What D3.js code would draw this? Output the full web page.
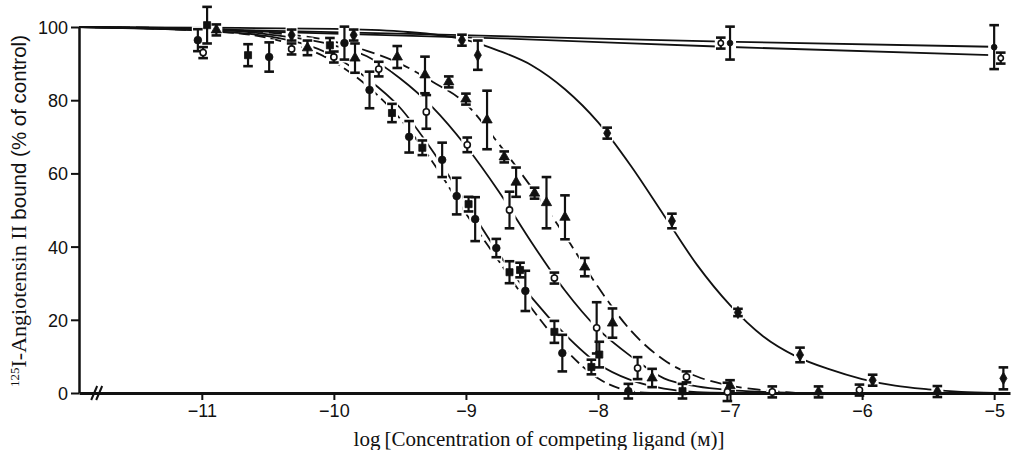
<!DOCTYPE html>
<html>
<head>
<meta charset="utf-8">
<script src="https://cdn.jsdelivr.net/npm/d3@7"></script>
<style>
  body { margin: 0; background: #fff; }
  svg { display: block; }
  .tick text { font-family: "Liberation Sans", Arial, sans-serif; font-size: 18px; fill: #111; }
</style>
</head>
<body>
<div id="chart"></div>
<script>
// axis ticks
const xTicks = [-11, -10, -9, -8, -7, -6, -5];
const yTicks = [0, 20, 40, 60, 80, 100];

// fitted curves: [log conc, % bound]
const curveF1 = [[-11.93, 100], [-11, 99.4], [-8.74, 97.5], [-7.05, 96.0], [-5.02, 94.6]];
const curveF2 = [[-11.93, 100], [-11, 99.2], [-8.74, 96.9], [-7.05, 94.6], [-5.02, 92.3]];
const curveB1 = [[-11.93, 100], [-11, 99], [-10.5, 97], [-10, 90.5], [-9.75, 84], [-9.5, 75], [-9.25, 63],
  [-9, 49], [-8.75, 36], [-8.5, 23], [-8.25, 12], [-8, 4], [-7.75, 0.5], [-7.6, 0]];
const curveB2 = [[-11.93, 100], [-11, 99], [-10.5, 97.5], [-10, 92], [-9.75, 86], [-9.5, 78], [-9.25, 66],
  [-9, 52], [-8.75, 38], [-8.5, 26], [-8.25, 16], [-8, 8], [-7.75, 3.5], [-7.5, 1.2], [-7.25, 0.2], [-7, 0]];
const curveC = [[-11.93, 100], [-11, 99.5], [-10.5, 98], [-10, 95], [-9.75, 92], [-9.5, 86], [-9.25, 78],
  [-9, 67.5], [-8.75, 55], [-8.5, 41], [-8.25, 28], [-8, 17.5], [-7.75, 10], [-7.5, 4], [-7.25, 1.8],
  [-7, 0.8], [-6.75, 0.3], [-6.5, 0]];
const curveD = [[-11.93, 100], [-11, 99.5], [-10.5, 98.5], [-10, 96], [-9.75, 93.5], [-9.5, 90], [-9.25, 85],
  [-9, 79], [-8.75, 68], [-8.5, 56], [-8.25, 43], [-8, 29], [-7.75, 17], [-7.5, 9], [-7.25, 4.5],
  [-7, 2], [-6.75, 0.8], [-6.5, 0]];
const curveE = [[-11.93, 100], [-11, 99.8], [-10, 99.5], [-9.5, 98.8], [-9, 96.5], [-8.75, 93.5], [-8.5, 89.5],
  [-8.25, 83], [-8, 74], [-7.75, 62], [-7.5, 48.5], [-7.25, 35], [-7, 24], [-6.75, 15.5], [-6.5, 10],
  [-6.25, 6.5], [-6, 3.8], [-5.75, 2], [-5.5, 1], [-5.25, 0.3], [-5, 0]];

// data points: [log conc, % bound, s.e.m.]
const ptsB1 = [[-11.03, 96.4, 3], [-10.49, 91.8, 4], [-9.92, 95.6, 4.5], [-9.73, 82.8, 5], [-9.43, 70.0, 4.3],
  [-9.18, 63.7, 4.7], [-9.07, 53.8, 5], [-8.93, 47.5, 6], [-8.77, 39.6, 2.5], [-8.55, 27.9, 5.5],
  [-8.27, 10.9, 5], [-7.77, 0.5, 2]];
const ptsB2 = [[-10.96, 100.5, 5], [-10.65, 92.3, 3], [-10.03, 95.0, 2], [-9.56, 76.5, 2.5], [-9.33, 67.0, 2],
  [-8.98, 51.6, 2], [-8.67, 33.0, 3], [-8.59, 33.6, 2], [-8.33, 16.7, 3], [-8.05, 7.1, 2],
  [-7.99, 10.5, 3.5], [-7.36, 0.5, 2]];
const ptsC = [[-10.99, 93.0, 1.5], [-10.32, 94.0, 1.5], [-10.0, 91.8, 1.5], [-9.66, 88.5, 2], [-9.30, 76.8, 4.6],
  [-8.99, 67.8, 2], [-8.67, 50.0, 5], [-8.33, 31.4, 1.5], [-8.01, 17.8, 7], [-7.70, 6.8, 3],
  [-7.33, 4.4, 1.5], [-7.02, 0.3, 2.5], [-6.68, 0.3, 1.5], [-6.02, 0.8, 1.5]];
const ptsD = [[-10.89, 99.2, 1.5], [-10.20, 94.3, 2], [-9.84, 91.5, 4], [-9.52, 91.8, 3], [-9.31, 86.9, 5],
  [-9.13, 85.0, 1.5], [-9.00, 80.3, 1.5], [-8.84, 74.6, 8], [-8.71, 64.5, 1.5], [-8.62, 57.6, 4],
  [-8.48, 54.6, 1.5], [-8.39, 52.0, 7], [-8.25, 48.0, 6], [-8.10, 34.4, 2.5], [-7.89, 19.1, 4],
  [-7.59, 4.1, 2.5], [-7.00, 2.0, 1.5], [-6.33, 0.3, 1.5]];
const ptsE = [[-10.32, 97.8, 1.5], [-9.85, 97.8, 1.5], [-9.03, 96.4, 1.5], [-8.91, 92.3, 4], [-7.93, 71.0, 1.5],
  [-7.44, 47.0, 2], [-6.94, 22.0, 1], [-6.47, 10.4, 2], [-5.92, 3.5, 1.5], [-5.43, 0.4, 1.5], [-4.93, 4.0, 3]];
const ptsF1 = [[-7.00, 95.6, 4.5], [-5.00, 94.5, 6]];
const ptsF2 = [[-7.07, 95.6, 1.5], [-4.95, 91.5, 1.5]];

const w = 1011, h = 450;

const x = d3.scaleLinear().domain([-11.93, -4.88]).range([79, 1010]);
const y = d3.scaleLinear().domain([0, 100]).range([393, 27]);

const svg = d3.select("#chart").append("svg")
  .attr("width", w)
  .attr("height", h);

const line = d3.line()
  .x(d => x(d[0]))
  .y(d => y(d[1]))
  .curve(d3.curveMonotoneX);

const curves = [
  { data: curveF1, dash: null },
  { data: curveF2, dash: null },
  { data: curveE, dash: null },
  { data: curveD, dash: "13,6" },
  { data: curveC, dash: null },
  { data: curveB2, dash: null },
  { data: curveB1, dash: "11,5" }
];

svg.append("g").selectAll("path")
  .data(curves)
  .enter()
  .append("path")
  .attr("d", d => line(d.data))
  .attr("fill", "none")
  .attr("stroke", "#111")
  .attr("stroke-width", 1.8)
  .attr("stroke-dasharray", d => d.dash);

const series = [
  { pts: ptsB1, type: d3.symbolCircle, size: 46, open: false },
  { pts: ptsB2, type: d3.symbolSquare, size: 50, open: false },
  { pts: ptsC, type: d3.symbolCircle, size: 30, open: true },
  { pts: ptsD, type: d3.symbolTriangle, size: 46, open: false },
  { pts: ptsE, type: d3.symbolDiamond, size: 44, open: false },
  { pts: ptsF1, type: d3.symbolCircle, size: 26, open: false },
  { pts: ptsF2, type: d3.symbolCircle, size: 22, open: true }
];

const allPts = [];
series.forEach(s => s.pts.forEach(p => allPts.push({ p: p, s: s })));

const cap = 4.8;

// white halo so the curves break around each point
const halo = svg.append("g");
halo.selectAll("line")
  .data(allPts)
  .enter()
  .append("line")
  .attr("x1", d => x(d.p[0]))
  .attr("x2", d => x(d.p[0]))
  .attr("y1", d => y(d.p[1] + d.p[2]) - 3)
  .attr("y2", d => y(d.p[1] - d.p[2]) + 3)
  .attr("stroke", "#fff")
  .attr("stroke-width", 12);

// axes
const xAxis = d3.axisBottom(x).tickValues(xTicks).tickFormat(d3.format("d"))
  .tickSize(7).tickSizeOuter(0).tickPadding(4);
const yAxis = d3.axisLeft(y).tickValues(yTicks).tickSize(8).tickSizeOuter(0).tickPadding(3);

const gx = svg.append("g")
  .attr("transform", `translate(0, ${y(0)})`)
  .call(xAxis);
gx.select(".domain").attr("stroke", "#111").attr("stroke-width", 3);
gx.selectAll(".tick line").attr("stroke", "#111").attr("stroke-width", 2);

const gy = svg.append("g")
  .attr("transform", `translate(${x(-11.93)}, 0)`)
  .call(yAxis);
gy.select(".domain").attr("stroke", "#111").attr("stroke-width", 2.5);
gy.selectAll(".tick line").attr("stroke", "#111").attr("stroke-width", 2);
gy.selectAll(".tick text").attr("dy", "0.36em");

// axis break marks
const bx = x(-11.815);
[0, 5].forEach(off => {
  svg.append("line")
    .attr("x1", bx + off - 3).attr("y1", y(0) + 7)
    .attr("x2", bx + off + 3).attr("y2", y(0) - 7)
    .attr("stroke", "#111").attr("stroke-width", 2);
});

// error bars
const bars = svg.append("g").attr("stroke", "#111").attr("stroke-width", 2.2);
bars.selectAll("line.v")
  .data(allPts)
  .enter()
  .append("line")
  .attr("class", "v")
  .attr("x1", d => x(d.p[0]))
  .attr("x2", d => x(d.p[0]))
  .attr("y1", d => y(d.p[1] + d.p[2]))
  .attr("y2", d => y(d.p[1] - d.p[2]));
bars.selectAll("line.t")
  .data(allPts)
  .enter()
  .append("line")
  .attr("class", "t")
  .attr("x1", d => x(d.p[0]) - cap)
  .attr("x2", d => x(d.p[0]) + cap)
  .attr("y1", d => y(d.p[1] + d.p[2]))
  .attr("y2", d => y(d.p[1] + d.p[2]))
  .attr("stroke-width", 2.6);
bars.selectAll("line.b")
  .data(allPts)
  .enter()
  .append("line")
  .attr("class", "b")
  .attr("x1", d => x(d.p[0]) - cap)
  .attr("x2", d => x(d.p[0]) + cap)
  .attr("y1", d => y(d.p[1] - d.p[2]))
  .attr("y2", d => y(d.p[1] - d.p[2]))
  .attr("stroke-width", 2.6);

// markers
svg.append("g").selectAll("path")
  .data(allPts)
  .enter()
  .append("path")
  .attr("transform", d => `translate(${x(d.p[0])}, ${y(d.p[1])})`)
  .attr("d", d => d3.symbol().type(d.s.type).size(d.s.size)())
  .attr("fill", d => d.s.open ? "#fff" : "#111")
  .attr("stroke", "#111")
  .attr("stroke-width", d => d.s.open ? 1.6 : 0.8);

// axis titles
const yTitle = svg.append("text")
  .attr("transform", `translate(26, ${y(50) + 1}) rotate(-90)`)
  .attr("text-anchor", "middle")
  .attr("fill", "#111")
  .style("font-size", "22px");
yTitle.append("tspan")
  .attr("font-family", "'Liberation Serif', 'Times New Roman', serif")
  .attr("font-size", "13px")
  .attr("baseline-shift", "7px")
  .text("125");
yTitle.append("tspan")
  .attr("font-family", "'Liberation Serif', 'Times New Roman', serif")
  .text("I-Angiotensin II ");
yTitle.append("tspan")
  .attr("font-family", "'Liberation Sans', Arial, sans-serif")
  .attr("font-size", "20.5px")
  .text("bound (% of control)");

svg.append("text")
  .attr("x", 539)
  .attr("y", 446)
  .attr("text-anchor", "middle")
  .attr("fill", "#111")
  .style("font-family", "'Liberation Serif', 'Times New Roman', serif")
  .style("font-size", "21px")
  .text("log\u2009[Concentration of competing ligand (\u043c)]");
</script>
</body>
</html>
